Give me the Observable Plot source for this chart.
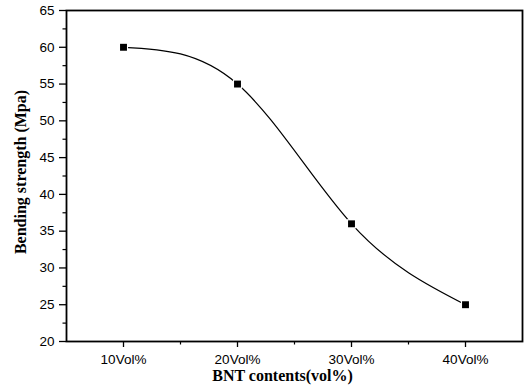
<!DOCTYPE html>
<html>
<head>
<meta charset="utf-8">
<script src="https://cdn.jsdelivr.net/npm/d3@7"></script>
<script src="https://cdn.jsdelivr.net/npm/@observablehq/plot@0.6"></script>
<style>
  html, body { margin: 0; padding: 0; background: #fff; }
</style>
</head>
<body>
<div id="chart"></div>
<script>
const categories = ["10Vol%", "20Vol%", "30Vol%", "40Vol%"];
const strength = [60, 55, 36, 25];
const yTicks = [20, 25, 30, 35, 40, 45, 50, 55, 60, 65];
const yMinorTicks = [22.5, 27.5, 32.5, 37.5, 42.5, 47.5, 52.5, 57.5, 62.5];
const xMinorTicks = [1.5, 2.5, 3.5];
const xTitle = "BNT contents(vol%)";
const yTitle = "Bending strength (Mpa)";

const data = categories.map((c, i) => ({x: i + 1, cat: c, y: strength[i]}));

const chart = Plot.plot({
  width: 526,
  height: 391,
  marginLeft: 66,
  marginRight: 4,
  marginTop: 10,
  marginBottom: 50,
  style: {fontFamily: "Liberation Sans, Arial, sans-serif", fontSize: "13.5px", color: "#000", background: "#fff"},
  x: {domain: [0.5, 4.5], label: null},
  y: {domain: [20, 65], label: null},
  marks: [
    Plot.line(data, {x: "x", y: "y", curve: "natural", stroke: "#000", strokeWidth: 1.2}),
    Plot.dot(data, {x: "x", y: "y", symbol: "square", r: 5.2, fill: "#fff", stroke: "none"}),
    Plot.dot(data, {x: "x", y: "y", symbol: "square", r: 3.9, fill: "#000", stroke: "none"}),
    Plot.axisY({ticks: yTicks, tickSize: 7, tickPadding: 5, strokeWidth: 1.3, fontSize: 13.5, label: null}),
    Plot.axisY({ticks: yMinorTicks, tickSize: 3.5, strokeWidth: 1.2, tickFormat: () => "", label: null}),
    Plot.axisX({ticks: [1, 2, 3, 4], tickFormat: d => categories[d - 1], tickSize: 6, tickPadding: 7, strokeWidth: 1.3, fontSize: 13.5, label: null}),
    Plot.axisX({ticks: xMinorTicks, tickSize: 3.5, strokeWidth: 1.2, tickFormat: () => "", label: null}),
    Plot.frame({stroke: "#000", strokeWidth: 1.8}),
    Plot.text([xTitle], {frameAnchor: "bottom", dy: 39, dx: -12, text: d => d, fontFamily: "Liberation Serif, Times New Roman, serif", fontWeight: "bold", fontSize: 16, fill: "#000"}),
    Plot.text([yTitle], {frameAnchor: "left", textAnchor: "middle", dx: -46, dy: -4, rotate: -90, text: d => d, fontFamily: "Liberation Serif, Times New Roman, serif", fontWeight: "bold", fontSize: 16, fill: "#000"})
  ]
});
document.getElementById("chart").appendChild(chart);
</script>
</body>
</html>
